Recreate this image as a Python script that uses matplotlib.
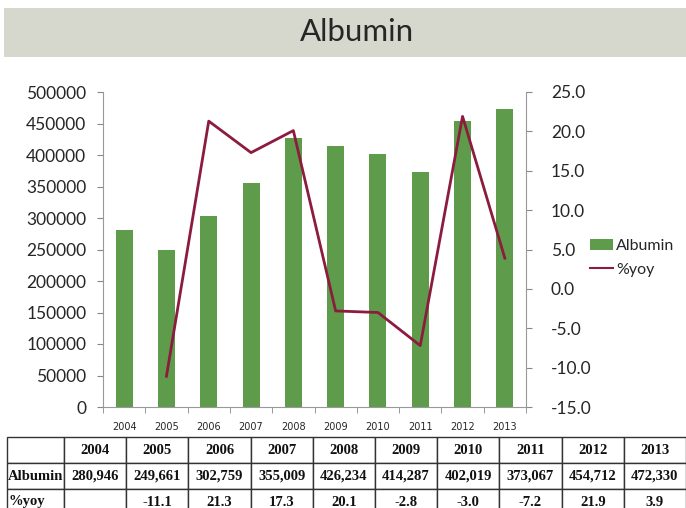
import matplotlib
matplotlib.use("Agg")
import matplotlib.pyplot as plt
from matplotlib.patches import Rectangle
from matplotlib.lines import Line2D
from matplotlib.patches import Patch
import numpy as np

years = ["2004", "2005", "2006", "2007", "2008", "2009", "2010", "2011", "2012", "2013"]
albumin = [280946, 249661, 302759, 355009, 426234, 414287, 402019, 373067, 454712, 472330]
yoy = [None, -11.1, 21.3, 17.3, 20.1, -2.8, -3.0, -7.2, 21.9, 3.9]
left_ticks = [0, 50000, 100000, 150000, 200000, 250000, 300000, 350000, 400000, 450000, 500000]
right_ticks = [-15.0, -10.0, -5.0, 0.0, 5.0, 10.0, 15.0, 20.0, 25.0]

bar_color = "#5e9c4c"
line_color = "#8c1c3e"
text_color = "#262626"
font = "Lato"

W, H = 686, 508
fig = plt.figure(figsize=(W / 100, H / 100), dpi=100)

# Title band
fig.patches.append(Rectangle((4 / W, 1 - 57 / H), 682 / W, 49 / H, transform=fig.transFigure,
                             facecolor="#d6d8cd", edgecolor="none", zorder=0))
fig.text(357 / W, 1 - 32 / H, "Albumin", ha="center", va="center", fontsize=22.5,
         family=font, color=text_color)

# Main axes
ax = fig.add_axes([103 / W, 1 - 407 / H, (526 - 103) / W, (407 - 92) / H])
x = np.arange(len(years))
ax.bar(x, albumin, width=0.4, color=bar_color, zorder=2)
ax.set_xlim(-0.5, len(years) - 0.5)
ax.set_ylim(0, 500000)
ax.set_yticks(left_ticks)
ax.set_yticklabels([str(v) for v in left_ticks], family=font, fontsize=12.5, color=text_color)
ax.set_xticks(x)
ax.set_xticklabels(years, fontsize=7, family="DejaVu Sans", color=text_color)
ax.set_xticks(np.arange(-0.5, len(years)), minor=True)
ax.tick_params(axis="x", which="major", length=0, pad=11)
ax.tick_params(axis="x", which="minor", length=4, color="#888888")
ax.tick_params(axis="y", length=4, color="#888888", pad=8)
for s in ["top", "right"]:
    ax.spines[s].set_visible(False)
for s in ["left", "bottom"]:
    ax.spines[s].set_color("#999999")
ax.set_facecolor("none")

ax2 = ax.twinx()
xs = [i for i, v in enumerate(yoy) if v is not None]
vs = [v for v in yoy if v is not None]
ax2.plot(xs, vs, color=line_color, lw=2, zorder=3)
ax2.set_ylim(-15, 25)
ax2.set_yticks(right_ticks)
ax2.set_yticklabels([f"{v:.1f}" for v in right_ticks], family=font, fontsize=12.5, color=text_color)
ax2.tick_params(axis="y", length=4, color="#888888", pad=14)
for s in ["top", "left", "bottom"]:
    ax2.spines[s].set_visible(False)
ax2.spines["right"].set_color("#999999")

handles = [Patch(facecolor=bar_color, edgecolor="none", label="Albumin"),
           Line2D([0], [0], color=line_color, lw=1.5, label="%yoy")]
fig.legend(handles=handles, loc="center left", bbox_to_anchor=(584 / W, 1 - 258 / H),
           frameon=False, prop={"family": font, "size": 11.5}, handlelength=1.4,
           handletextpad=0.2, labelspacing=0.6, labelcolor=text_color, borderaxespad=0)

# Data table
tax = fig.add_axes([7 / W, 1 - 515 / H, (686 - 7) / W, (515 - 437) / H])
tax.axis("off")
cells = [["", *years],
         ["Albumin", *[f"{v:,}" for v in albumin]],
         ["%yoy", *["" if v is None else f"{v:.1f}" for v in yoy]]]
colw = [57] + [62.2] * 10
tot = sum(colw)
tbl = tax.table(cellText=cells, bbox=[0, 0, 1, 1], colWidths=[c / tot for c in colw],
                cellLoc="center")
tbl.auto_set_font_size(False)
for (r, c), cell in tbl.get_celld().items():
    cell.set_linewidth(1.0)
    cell.set_edgecolor("#333333")
    t = cell.get_text()
    t.set_fontfamily("Liberation Serif")
    t.set_fontweight("bold")
    t.set_fontsize(10.5)
    t.set_color("#111111")
    if c == 0:
        t.set_ha("left")
        cell.PAD = 0.02

fig.savefig("out.png", dpi=100)
